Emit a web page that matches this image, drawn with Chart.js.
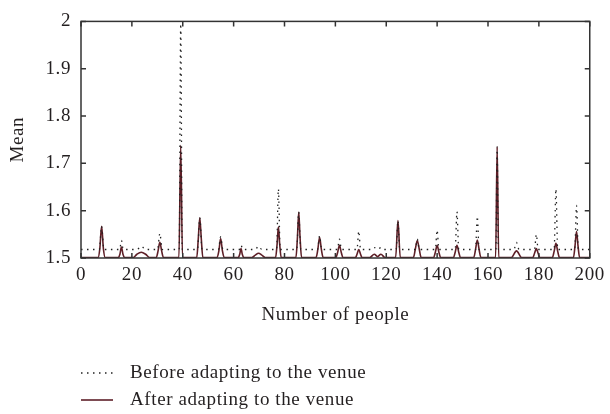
<!DOCTYPE html>
<html>
<head>
<meta charset="utf-8">
<script src="https://cdn.jsdelivr.net/npm/chart.js@4"></script>
<style>
html, body { margin: 0; padding: 0; background: #fff; }
#wrap { width: 610px; height: 414px; }
</style>
</head>
<body>
<div id="wrap"><canvas id="chart"></canvas></div>
<script>
// Data
const beforeX = [0, 7.2, 8.1, 9, 15.2, 15.9, 16.6, 22, 23.7, 25.4, 30.1, 31, 31.9, 38.6, 39.2, 39.8,
    45.8, 46.7, 47.6, 54, 54.9, 55.8, 62.2, 62.9, 63.6, 68.5, 69.8, 71.1, 76.9, 77.6, 78.3,
    84.8, 85.6, 86.4, 93, 93.8, 94.6, 100.8, 101.6, 102.4, 108.5, 109.2, 109.9,
    114.5, 115.3, 116.6, 117.9, 118.7, 123.9, 124.6, 125.3, 131.4, 132.2, 133,
    139.3, 140, 140.7, 147.1, 147.8, 148.5, 155.1, 155.8, 156.5, 163.1, 163.6, 164.1,
    170.2, 171.2, 172.2, 178.3, 179, 179.7, 186, 186.7, 187.4, 194.1, 194.8, 195.5, 200];
const beforeY = [1.518, 1.518, 1.567, 1.518, 1.518, 1.537, 1.518, 1.518, 1.525, 1.518, 1.518, 1.552, 1.518, 1.518, 1.995, 1.518,
    1.518, 1.585, 1.518, 1.518, 1.545, 1.518, 1.518, 1.527, 1.518, 1.518, 1.525, 1.518, 1.518, 1.646, 1.518,
    1.518, 1.597, 1.518, 1.518, 1.547, 1.518, 1.518, 1.540, 1.518, 1.518, 1.557, 1.518,
    1.518, 1.522, 1.518, 1.522, 1.518, 1.518, 1.579, 1.518, 1.518, 1.540, 1.518,
    1.518, 1.559, 1.518, 1.518, 1.598, 1.518, 1.518, 1.588, 1.518, 1.518, 1.735, 1.518,
    1.518, 1.533, 1.518, 1.518, 1.550, 1.518, 1.518, 1.646, 1.518, 1.518, 1.611, 1.518, 1.518];

const afterX = [0, 6.7, 7.4, 8.1, 8.8, 9.5, 14.6, 15.3, 15.9, 16.5, 17.2, 20.5, 22, 23.7, 25.4, 27,
    29.6, 30.3, 31, 31.7, 32.4, 38.5, 39.2, 39.9, 45.5, 46.1, 46.7, 47.3, 47.9,
    53.5, 54.2, 54.9, 55.6, 56.3, 61.8, 62.4, 62.9, 63.4, 64, 67.2, 68.5, 69.8, 71.1, 72.4,
    76.5, 77.1, 77.6, 78.1, 78.7, 84.5, 85.1, 85.6, 86.1, 86.7, 92.4, 93.1, 93.8, 94.5, 95.2,
    100.2, 100.9, 101.6, 102.3, 103, 107.9, 108.5, 109.2, 109.9, 110.5, 113.5, 115.3, 116.6, 117.9, 119.5,
    123.7, 124.6, 125.5, 130.7, 131.4, 132.2, 133, 133.7, 138.6, 139.3, 140, 140.7, 141.4,
    146.4, 147.1, 147.8, 148.5, 149.2, 154.4, 155.1, 155.8, 156.5, 157.2, 163, 163.6, 164.2,
    169.2, 171.2, 173.2, 177.6, 178.3, 179, 179.7, 180.4, 185.3, 186, 186.7, 187.4, 188.1,
    193.6, 194.2, 194.8, 195.4, 196, 200];
const afterY = [1.501, 1.501, 1.520, 1.567, 1.520, 1.501, 1.501, 1.508, 1.523, 1.508, 1.501, 1.501, 1.508, 1.512, 1.508, 1.501,
    1.501, 1.515, 1.533, 1.515, 1.501, 1.501, 1.738, 1.501, 1.501, 1.540, 1.585, 1.540, 1.501,
    1.501, 1.515, 1.541, 1.515, 1.501, 1.501, 1.508, 1.520, 1.508, 1.501, 1.501, 1.506, 1.510, 1.506, 1.501,
    1.501, 1.530, 1.566, 1.530, 1.501, 1.501, 1.545, 1.597, 1.545, 1.501, 1.501, 1.518, 1.544, 1.518, 1.501,
    1.501, 1.512, 1.527, 1.512, 1.501, 1.501, 1.508, 1.518, 1.508, 1.501, 1.501, 1.508, 1.503, 1.508, 1.501,
    1.501, 1.579, 1.501, 1.501, 1.518, 1.537, 1.518, 1.501, 1.501, 1.512, 1.527, 1.512, 1.501,
    1.501, 1.512, 1.527, 1.512, 1.501, 1.501, 1.518, 1.538, 1.518, 1.501, 1.501, 1.735, 1.501,
    1.501, 1.515, 1.501, 1.501, 1.510, 1.520, 1.510, 1.501, 1.501, 1.514, 1.531, 1.514, 1.501,
    1.501, 1.525, 1.556, 1.525, 1.501, 1.501];

const xTicks = [0, 20, 40, 60, 80, 100, 120, 140, 160, 180, 200];
const yTicks = [1.5, 1.6, 1.7, 1.8, 1.9, 2];
const seriesLabels = ['Before adapting to the venue', 'After adapting to the venue'];

const serif = "'Liberation Serif', 'Times New Roman', serif";
const textColor = '#231f20';

const toPoints = (xs, ys) => xs.map((x, i) => ({ x: x, y: ys[i] }));

// slightly wider lettering, closer to the original typeface
const spacingPlugin = {
    id: 'spacing',
    beforeDraw(chart) { chart.ctx.letterSpacing = '0.6px'; }
};

// box with inward ticks + legend underneath
const framePlugin = {
    id: 'frame',
    afterDatasetsDraw(chart) {
        const { ctx, chartArea: a, scales: { x, y } } = chart;
        ctx.save();
        ctx.strokeStyle = '#333';
        ctx.lineWidth = 1.5;
        ctx.strokeRect(a.left, a.top, a.right - a.left, a.bottom - a.top);
        ctx.beginPath();
        xTicks.forEach(v => {
            const px = x.getPixelForValue(v);
            ctx.moveTo(px, a.bottom); ctx.lineTo(px, a.bottom - 5);
            ctx.moveTo(px, a.top); ctx.lineTo(px, a.top + 5);
        });
        yTicks.forEach(v => {
            const py = y.getPixelForValue(v);
            ctx.moveTo(a.left, py); ctx.lineTo(a.left + 5, py);
            ctx.moveTo(a.right, py); ctx.lineTo(a.right - 5, py);
        });
        ctx.stroke();

        // legend
        chart.data.datasets.forEach((ds, i) => {
            const ly = 373 + i * 27;
            ctx.beginPath();
            ctx.strokeStyle = ds.borderColor;
            ctx.lineWidth = ds.borderWidth;
            ctx.setLineDash(ds.borderDash || []);
            ctx.moveTo(81, ly); ctx.lineTo(113, ly);
            ctx.stroke();
            ctx.setLineDash([]);
            ctx.fillStyle = textColor;
            ctx.font = '19px ' + serif;
            ctx.letterSpacing = '0.6px';
            ctx.textBaseline = 'middle';
            ctx.fillText(ds.label, 130, ly);
        });
        ctx.restore();
    }
};

const tickFont = { family: serif, size: 19 };

new Chart(document.getElementById('chart'), {
    type: 'line',
    data: {
        datasets: [
            {
                label: seriesLabels[0],
                data: toPoints(beforeX, beforeY),
                borderColor: '#222',
                borderWidth: 1.3,
                borderDash: [1.5, 4.5],
                pointRadius: 0,
                cubicInterpolationMode: 'monotone',
                fill: false
            },
            {
                label: seriesLabels[1],
                data: toPoints(afterX, afterY),
                borderColor: '#5e1f27',
                borderWidth: 1.6,
                pointRadius: 0,
                cubicInterpolationMode: 'monotone',
                fill: false
            }
        ]
    },
    options: {
        responsive: true,
        maintainAspectRatio: false,
        animation: false,
        layout: { padding: { top: 14, right: 16, bottom: 84, left: 0 } },
        plugins: { legend: { display: false }, tooltip: { enabled: false } },
        scales: {
            x: {
                type: 'linear',
                min: 0,
                max: 200,
                afterBuildTicks: s => { s.ticks = xTicks.map(v => ({ value: v })); },
                afterFit: s => { s.height = 72; },
                grid: { display: false, drawTicks: false },
                border: { display: false },
                ticks: { font: tickFont, color: textColor, padding: 6, maxRotation: 0 },
                title: { display: true, text: 'Number of people', font: tickFont, color: textColor, padding: { top: 0, bottom: 4 } }
            },
            y: {
                type: 'linear',
                min: 1.5,
                max: 2,
                afterBuildTicks: s => { s.ticks = yTicks.map(v => ({ value: v })); },
                afterFit: s => { s.width = 81; },
                grid: { display: false, drawTicks: false },
                border: { display: false },
                ticks: { font: tickFont, color: textColor, padding: 10, callback: v => String(v) },
                title: { display: true, text: 'Mean', font: tickFont, color: textColor, padding: { top: 7, bottom: 0 } }
            }
        }
    },
    plugins: [spacingPlugin, framePlugin]
});
</script>
</body>
</html>
